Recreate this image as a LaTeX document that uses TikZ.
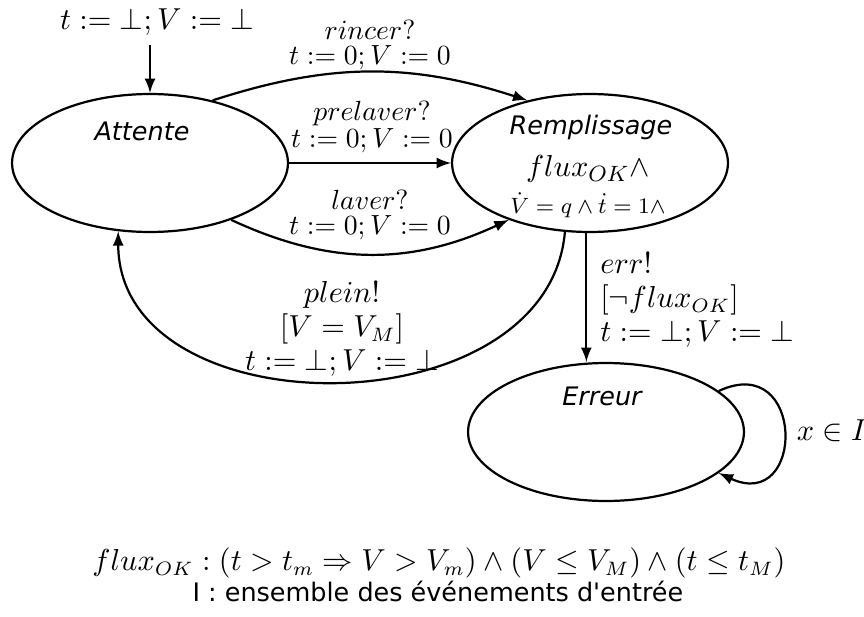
\documentclass[tikz,border=0pt]{standalone}
\usepackage{fontspec}
\usepackage{amsmath}
\usepackage{amssymb}
\usetikzlibrary{shapes.geometric}
\newfontfamily\etatfont{DejaVu Sans}

\begin{document}
\begin{tikzpicture}[x=0.361pt,y=-0.361pt]
\tikzstyle{etat} = [thick,draw,ellipse,inner sep=0mm,minimum width=99.6pt,minimum height=49.8pt]
\tikzstyle{nom} = [font=\fontsize{9.2}{11}\etatfont\itshape]
\tikzstyle{lbl} = [align=center,inner sep=1pt]
\tikzstyle{grand} = [font=\fontsize{10.7}{12.2}\selectfont]
\tikzstyle{a} = [thick,>=latex,->]
\useasboundingbox (0,0) rectangle (864,616);
% etats
\node[etat] (att) at (150,163) {};
\node[etat] (rem) at (590,163) {};
\node[etat] (err) at (606,432) {};
\node[nom] (att-nom) at (142,131) {Attente};
\node[nom] (rem-nom) at (591,127) {Remplissage};
\node[nom] (err-nom) at (602,396) {Erreur};
\node[font=\fontsize{10.8}{12}\selectfont,inner sep=0pt] (rem-inv1) at (588,169) {$flux_{OK}\wedge$};
\node[font=\fontsize{8.5}{10}\selectfont,inner sep=0pt] (rem-inv2) at (588,205) {$\dot{V}=q\wedge\dot{t}=1\wedge$};
% etiquettes
\node[grand] (init) at (157,22) {$t:=\bot;V:=\bot$};
\node[lbl] (l-rincer) at (370,45) {$rincer?$\\[-3pt]$t:=0;V:=0$};
\node[lbl] (l-prelaver) at (372,127) {$prelaver?$\\[-2pt]$t:=0;V:=0$};
\node[lbl] (l-laver) at (370,215) {$laver?$\\[-3pt]$t:=0;V:=0$};
\node[lbl,grand] (l-plein) at (342,329) {$plein!$\\$[V=V_M]$\\$t:=\bot;V:=\bot$};
\node[lbl,grand,align=left,anchor=west] (l-err) at (597,300) {$err!$\\$[\neg flux_{OK}]$\\$t:=\bot;V:=\bot$};
\node[anchor=west,font=\fontsize{11.2}{13}\selectfont] (l-loop) at (787,431) {$x\in I$};
% transitions
\path[a]
(init.south -| att.north) edge (att.north)
(att.45) edge [bend left=18] (rem.135)
(att.east) edge (rem.west)
(att.-35) edge [bend right=25] (rem.-145)
(rem.-110) edge [out=-95,in=-90,looseness=1.15] (att.-115)
(rem.-93) edge (rem.-93 |- err.north)
(err.20) edge [out=25,in=-25,looseness=3] (err.-20);
% legende
\node[anchor=east,inner sep=0pt,font=\fontsize{10.5}{12}\selectfont] (def-flux) at (786,563)
  {$flux_{OK}:(t>t_m\Rightarrow V>V_m)\wedge(V\leq V_M)\wedge(t\leq t_M)$};
\node[anchor=west,inner sep=0pt,font=\fontsize{9.2}{11}\etatfont] (def-i) at (192,591)
  {I : ensemble des événements d'entrée};
\end{tikzpicture}
\end{document}
